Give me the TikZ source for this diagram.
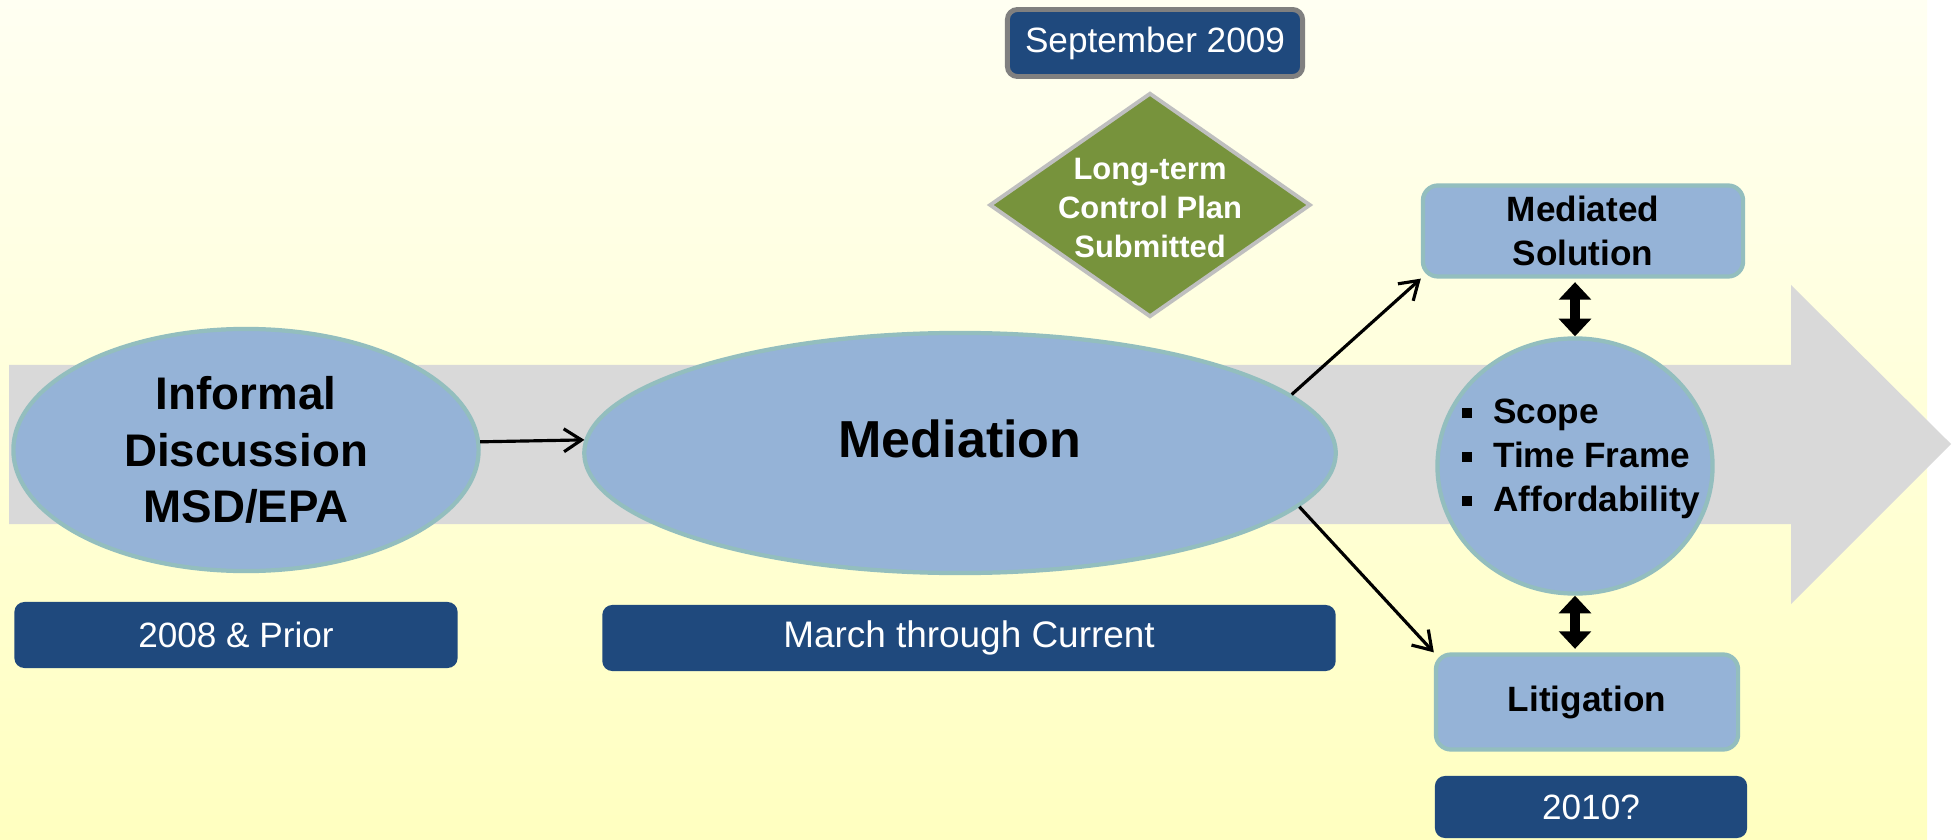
\documentclass[tikz,border=0pt]{standalone}
\usepackage{fontspec}
\setmainfont{Liberation Sans}
\usetikzlibrary{shapes.geometric,arrows.meta}

\definecolor{bgtop}{HTML}{FFFFF2}
\definecolor{bgbot}{HTML}{FFFFC0}
\definecolor{band}{HTML}{D9D9D9}
\definecolor{lblue}{HTML}{95B3D7}
\definecolor{rim}{HTML}{93BEBE}
\definecolor{dblue}{HTML}{1F497D}
\definecolor{olive}{HTML}{77933C}

\newcommand{\bulsq}{\rule[1.6pt]{2.8pt}{2.8pt}\hspace{6.2pt}}

\begin{document}
\begin{tikzpicture}[x=0.01cm,y=-0.01cm,
	stage/.style={ellipse,draw=rim,line width=1.2pt,fill=lblue,inner sep=0pt},
	result/.style={rectangle,rounded corners=0.15cm,draw=rim,line width=1.2pt,fill=lblue,
		font=\fontsize{10}{12.5}\selectfont\bfseries,align=center,inner sep=0pt},
	datebox/.style={rectangle,rounded corners=0.1cm,fill=dblue,text=white,inner sep=0pt,
		font=\fontsize{10}{12}\selectfont},
	flow/.style={line width=0.9pt,-{Straight Barb[length=5pt,width=6.5pt]}},
	link/.style={line width=3pt,{Triangle[width=9pt,length=5pt]}-{Triangle[width=9pt,length=5pt]}}]
		\useasboundingbox (0,0) rectangle (1952,840);
		\shade[top color=bgtop,bottom color=bgbot] (0,0) rectangle (1927,840);
		\fill[band] (9,365) -- (1791,365) -- (1791,285) -- (1951,444) -- (1791,604) -- (1791,524) -- (9,524) -- cycle;

		\node[stage,minimum width=4.65cm,minimum height=2.42cm,align=center,
			font=\fontsize{13}{16}\selectfont\bfseries] (informal) at (246,450) {Informal\\Discussion\\MSD/EPA};
		\node[stage,minimum width=7.51cm,minimum height=2.40cm,
			label={[font=\fontsize{14.8}{17}\selectfont\bfseries,yshift=0.14cm]center:Mediation}] (mediation) at (960,453) {};
		\node[stage,minimum width=2.75cm,minimum height=2.55cm,
			label={[font=\fontsize{10}{12.5}\selectfont\bfseries,align=left,xshift=0.06cm,yshift=0.07cm]center:\bulsq Scope\\\bulsq Time Frame\\\bulsq Affordability}] (scope) at (1575,466) {};

		\node[result,minimum width=3.20cm,minimum height=0.91cm] (msol) at (1583,231) {Mediated\\Solution};
		\node[result,minimum width=3.02cm,minimum height=0.95cm] (litig) at (1587,702) {Litigation};

		\node[diamond,draw=black!25,line width=1.1pt,fill=olive,minimum width=3.21cm,minimum height=2.24cm,inner sep=0pt,
			label={[text=white,font=\fontsize{8.8}{11}\selectfont\bfseries,align=center,yshift=-0.03cm]center:Long-term\\Control Plan\\Submitted}] (ltcp) at (1150,205) {};

		\node[datebox,draw=black!50,line width=1.4pt,minimum width=2.95cm,minimum height=0.67cm] (sep) at (1155,43) {September 2009};
		\node[datebox,minimum width=4.43cm,minimum height=0.66cm] (y2008) at (236,635) {2008 \& Prior};
		\node[datebox,minimum width=7.33cm,minimum height=0.66cm,font=\fontsize{10.5}{12}\selectfont] (march) at (969,638) {March through Current};
		\node[datebox,minimum width=3.12cm,minimum height=0.62cm] (y2010) at (1591,807) {2010?};

		\draw[flow] (informal.2) -- (mediation.178);
		\draw[flow] (mediation.10) -- (msol.south west);
		\draw[flow] (mediation.-9) -- (litig.north west);
		\draw[link,shorten >=1pt] (scope.north) -- (scope.north |- msol.south);
		\draw[link,shorten >=1pt] (scope.south) -- (scope.south |- litig.north);
\end{tikzpicture}
\end{document}
